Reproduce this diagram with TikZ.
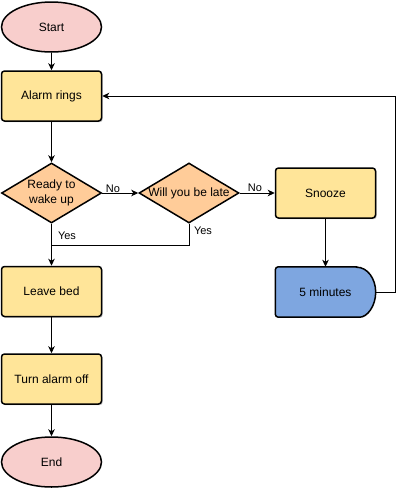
\documentclass[tikz,border=0pt]{standalone}
\usepackage{fontspec}
\setmainfont{Liberation Sans}
\usetikzlibrary{shapes.geometric,arrows.meta,shadows,backgrounds}
\definecolor{pinkf}{HTML}{F8CECC}
\definecolor{yellowf}{HTML}{FFE599}
\definecolor{orangef}{HTML}{FFCC99}
\definecolor{bluef}{HTML}{7EA6E0}
\tikzset{
  shp/.style={draw=black, line width=1.5pt, inner sep=0pt, font=\fontsize{12}{14.5}\selectfont, align=center},
  shd/.style={drop shadow={shadow xshift=1.2pt, shadow yshift=-1.2pt, opacity=0.25, fill=black}},
  term/.style={shp, ellipse, fill=pinkf, minimum width=100pt, minimum height=50pt},
  proc/.style={shp, rectangle, rounded corners=3pt, fill=yellowf, minimum width=100pt, minimum height=50pt, shd},
  dec/.style={shp, diamond, aspect=1.6667, fill=orangef, minimum width=100pt, minimum height=60pt},
  delaytext/.style={inner sep=0pt, minimum width=100pt, minimum height=50pt, font=\fontsize{12}{14.5}\selectfont},
  conn/.style={draw=black, line width=0.9pt, -{Stealth[length=7pt,width=6.5pt,inset=2pt]}},
  plain/.style={draw=black, line width=0.9pt},
  lbl/.style={inner sep=0pt, font=\fontsize{11}{13}\selectfont}
}
\begin{document}
\begin{tikzpicture}[x=1pt,y=-1pt]
\useasboundingbox (0,0) rectangle (404,488);
\node[term] (start) at (51.5,27) {Start};
\node[proc] (alarm) at (51.5,96) {Alarm rings};
\node[dec] (ready) at (51.5,193) {Ready to\\wake up};
\node[dec] (will) at (189,193) {Will you be late};
\node[proc] (snooze) at (325.5,193) {Snooze};
\node[delaytext] (five) at (325.5,292) {5 minutes};
\node[proc] (leave) at (51.5,291.5) {Leave bed};
\node[proc] (turn) at (51.5,379) {Turn alarm off};
\node[term] (end) at (51.5,462) {End};
\begin{scope}[on background layer]
\path[fill=black, opacity=0.25, shift={(1.2,1.2)}]
  ([xshift=-19pt]five.north east) [rounded corners=3pt] -- (five.north west) -- (five.south west) -- ([xshift=-19pt]five.south east) [sharp corners] arc[start angle=-90, end angle=90, x radius=19pt, y radius=25pt] -- cycle;
\path[draw=black, fill=bluef, line width=1.5pt]
  ([xshift=-19pt]five.north east) [rounded corners=3pt] -- (five.north west) -- (five.south west) -- ([xshift=-19pt]five.south east) [sharp corners] arc[start angle=-90, end angle=90, x radius=19pt, y radius=25pt] -- cycle;
\end{scope}
\coordinate (loop) at (395,96);
\coordinate (join) at (51.5,245);
\draw[conn] (start) -- (alarm);
\draw[conn] (alarm) -- (ready);
\draw[conn] (ready.east) -- (will.west);
\draw[conn] (will.east) -- (snooze.west);
\draw[conn] (snooze) -- (five);
\draw[conn] (five.east) -| (loop) -- (alarm.east);
\draw[conn] (ready.south) -- (leave.north);
\draw[plain] (will.south) |- (join);
\draw[conn] (leave) -- (turn);
\draw[conn] (turn) -- (end);
\node[lbl] (no1) at (113,189) {No};
\node[lbl] (no2) at (255,188) {No};
\node[lbl] (yes1) at (67,236) {Yes};
\node[lbl] (yes2) at (203,231) {Yes};
\end{tikzpicture}
\end{document}
